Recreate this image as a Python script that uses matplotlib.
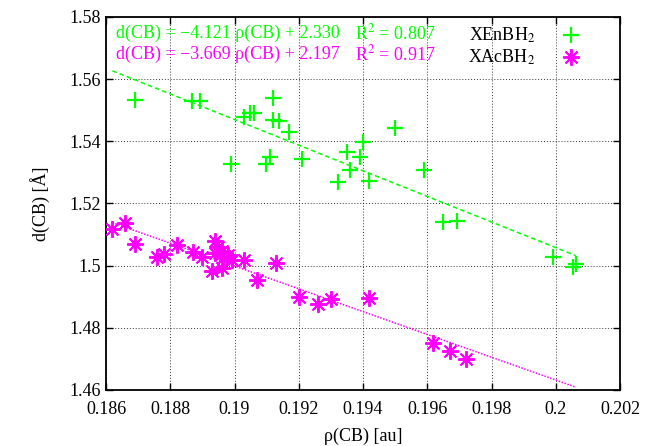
import numpy as np
import matplotlib
matplotlib.use("Agg")
import matplotlib.pyplot as plt

plt.rcParams['font.family'] = ['Liberation Serif', 'DejaVu Serif']
plt.rcParams['mathtext.fontset'] = 'stix'

# --- dados ---
xen_rho = [0.18690, 0.18868, 0.18892, 0.19030, 0.19049, 0.19062, 0.19121, 0.19119,
           0.19139, 0.19170, 0.18990, 0.19098, 0.19111, 0.19210, 0.19321, 0.19350,
           0.19361, 0.19391, 0.19401, 0.19420, 0.19500, 0.19590, 0.19650, 0.19692,
           0.19991, 0.20053, 0.20062]
xen_d = [1.5533, 1.5531, 1.5531, 1.5479, 1.5490, 1.5490, 1.5540, 1.5469,
         1.5466, 1.5431, 1.5327, 1.5327, 1.5351, 1.5342, 1.5268, 1.5367,
         1.5307, 1.5351, 1.5397, 1.5272, 1.5442, 1.5307, 1.5139, 1.5144,
         1.5029, 1.4995, 1.5005]

xac_rho = [0.18620, 0.18658, 0.18689, 0.18760, 0.18781, 0.18820, 0.18870, 0.18900,
           0.18939, 0.18938, 0.18961, 0.18964, 0.18981, 0.18992, 0.18931, 0.18960,
           0.18949, 0.19030, 0.19070, 0.19130, 0.19201, 0.19261, 0.19300, 0.19419,
           0.19619, 0.19671, 0.19721]
xac_d = [1.5117, 1.5136, 1.5071, 1.5027, 1.5036, 1.5067, 1.5045, 1.5029,
         1.5079, 1.5042, 1.5046, 1.5026, 1.5035, 1.5018, 1.4983, 1.4991,
         1.5060, 1.5017, 1.4954, 1.5010, 1.4899, 1.4877, 1.4892, 1.4895,
         1.4750, 1.4726, 1.4699]

# coeficientes dos ajustes (como aparecem no gráfico)
xen_a, xen_b, xen_r2 = -4.121, 2.330, 0.807
xac_a, xac_b, xac_r2 = -3.669, 2.197, 0.917

xticks = [0.186, 0.188, 0.19, 0.192, 0.194, 0.196, 0.198, 0.2, 0.202]
xticklabels = ['0.186', '0.188', '0.19', '0.192', '0.194', '0.196', '0.198', '0.2', '0.202']
yticks = [1.46, 1.48, 1.5, 1.52, 1.54, 1.56, 1.58]
yticklabels = ['1.46', '1.48', '1.5', '1.52', '1.54', '1.56', '1.58']

verde = '#00ff00'
magenta = '#ff00ff'
fs = 13

fig = plt.figure(figsize=(6.46, 4.46), dpi=100)
ax = fig.add_axes([0.1641, 0.1256, 0.7957, 0.8363])

# retas de ajuste sobre o intervalo total dos dados
todos = xen_rho + xac_rho
xr = np.array([min(todos), max(todos)])
ax.plot(xr, xen_a * xr + xen_b, color=verde, lw=1.1, ls=(0, (3, 2)), zorder=2)
ax.plot(xr, xac_a * xr + xac_b, color=magenta, lw=1.1, ls=(0, (1, 1)), zorder=2)

ax.plot(xen_rho, xen_d, ls='none', marker='+', ms=12, mew=1.6, color=verde,
        label=r'XEnBH$_2$', zorder=3)
ax.plot(xac_rho, xac_d, ls='none', marker=(8, 2, 0), ms=12, mew=1.4, color=magenta,
        label=r'XAcBH$_2$', zorder=3)

ax.set_xlim(0.186, 0.202)
ax.set_ylim(1.46, 1.58)
ax.set_xticks(xticks)
ax.set_xticklabels(xticklabels)
ax.set_yticks(yticks)
ax.set_yticklabels(yticklabels)
ax.tick_params(direction='in', top=True, right=True, labelsize=fs, length=5, width=1)
ax.tick_params(axis='x', pad=8)
ax.grid(True, color='black', ls=(0, (1, 2)), lw=0.7, alpha=0.8)
for s in ax.spines.values():
    s.set_linewidth(1.3)

ax.set_xlabel('ρ(CB) [au]', fontsize=fs, labelpad=7)
ax.set_ylabel('d(CB) [Å]', fontsize=fs, labelpad=14)

# equações dos ajustes
ax.text(0.0195, 0.955, f'd(CB) = \u2212{abs(xen_a):.3f} ρ(CB) + {xen_b:.3f}',
        transform=ax.transAxes, color=verde, fontsize=fs, va='center')
ax.text(0.485, 0.955, f'R$^2$ = {xen_r2:.3f}', transform=ax.transAxes,
        color=verde, fontsize=fs, va='center')
ax.text(0.0195, 0.899, f'd(CB) = \u2212{abs(xac_a):.3f} ρ(CB) + {xac_b:.3f}',
        transform=ax.transAxes, color=magenta, fontsize=fs, va='center')
ax.text(0.485, 0.899, f'R$^2$ = {xac_r2:.3f}', transform=ax.transAxes,
        color=magenta, fontsize=fs, va='center')

ax.legend(loc='upper right', bbox_to_anchor=(0.965, 1.01), frameon=False, markerfirst=False,
          fontsize=fs, handletextpad=1.0, labelspacing=0.15, borderaxespad=0.3)

fig.savefig('out.png', dpi=100)
